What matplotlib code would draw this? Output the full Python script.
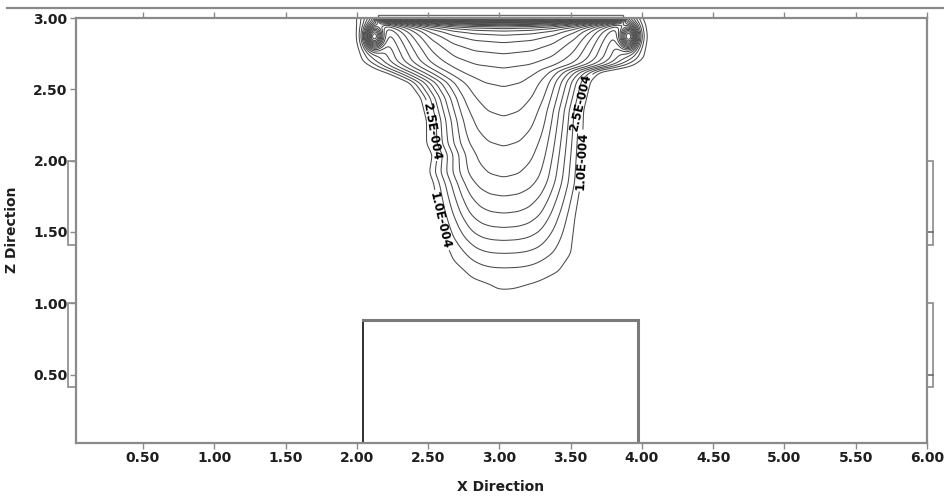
import numpy as np
import matplotlib
matplotlib.use("Agg")
import matplotlib.pyplot as plt
from matplotlib.patches import Rectangle
from matplotlib.lines import Line2D

plt.rcParams['font.family'] = ['DejaVu Sans']
plt.rcParams['font.weight'] = 'bold'

# ---------------------------------------------------------------- data
# Edges of the 1.0E-004 plume outline, as x against depth below the top (z = 3.0)
left_edge_depth = [0.00, 0.16, 0.30, 0.35, 0.38, 0.45, 0.56, 0.72, 0.88, 0.96,
                   1.08, 1.16, 1.35, 1.54, 1.70, 1.83, 1.89]
left_edge_x = [2.00, 2.01, 2.04, 2.12, 2.21, 2.37, 2.45, 2.49, 2.49, 2.53,
               2.51, 2.54, 2.57, 2.61, 2.68, 2.82, 3.02]
right_edge_depth = [0.00, 0.04, 0.13, 0.28, 0.33, 0.37, 0.44, 0.65, 0.93, 1.16,
                    1.40, 1.65, 1.78, 1.86, 1.89]
right_edge_x = [4.00, 4.02, 4.03, 4.01, 3.94, 3.71, 3.64, 3.59, 3.58, 3.57,
                3.53, 3.50, 3.41, 3.24, 3.04]
plume_axis_x = 3.03

# Concentration down the plume axis
centre_depth = [0.00, 0.04, 0.07, 0.11, 0.17, 0.25, 0.35, 0.48, 0.69, 0.90,
                1.12, 1.25, 1.37, 1.47, 1.56, 1.65, 1.75, 1.89, 2.40]
centre_conc = [2.65e-3, 2.5e-3, 2.35e-3, 2.2e-3, 2.05e-3, 1.9e-3, 1.75e-3,
               1.6e-3, 1.45e-3, 1.3e-3, 1.15e-3, 1.0e-3, 8.5e-4, 7.0e-4,
               5.5e-4, 4.0e-4, 2.5e-4, 1.0e-4, 0.0]

# Share of the axis excess left at a given fraction of the half-width
lateral_pos = [0.00, 0.20, 0.35, 0.50, 0.62, 0.74, 0.87, 1.00]
lateral_share = [1.00, 0.98, 0.93, 0.82, 0.66, 0.47, 0.24, 0.00]

level_start = 1.0e-4
level_step = 1.5e-4
level_count = 60
labelled_count = 2            # 1.0E-004 and 2.5E-004 carry labels
label_positions = [(2.585, 1.58), (3.581, 2.00),    # 1.0E-004
                   (2.56, 2.21), (3.52, 2.42)]      # 2.5E-004

# near-surface layer under the source strip, and its two corner hot spots
source_x = [2.15, 3.87]
source_height = 0.022
surface_conc = 2.5e-3
surface_decay = 0.025
hotspot_x = [2.12, 3.91]
hotspot_z = [2.87, 2.87]
hotspot_conc = 2.2e-3
hotspot_width_x = 0.04
hotspot_width_z = 0.055
smoothing = 0.018            # blur radius of the gridded field

# tank block and observation wells
tank_x = [2.04, 3.97]
tank_top = 0.885
well_z = [(1.41, 2.00), (0.41, 1.00)]
well_mark_z = [1.50, 0.50]

x_ticks = [0.5, 1.0, 1.5, 2.0, 2.5, 3.0, 3.5, 4.0, 4.5, 5.0, 5.5, 6.0]
z_ticks = [0.5, 1.0, 1.5, 2.0, 2.5, 3.0]
x_range = (0.03, 6.0)
z_range = (0.02, 3.0)

# ---------------------------------------------------------------- field
step = 0.004
xg = np.arange(x_range[0], x_range[1] + 1e-9, step)
zg = np.arange(z_range[0], z_range[1] + 1e-9, step)
X, Z = np.meshgrid(xg, zg)
D = z_range[1] - Z

xl = np.interp(D, left_edge_depth, left_edge_x)
xr = np.interp(D, right_edge_depth, right_edge_x)
half_l = np.maximum(plume_axis_x - xl, 0.005)
half_r = np.maximum(xr - plume_axis_x, 0.005)
xi = np.where(X < plume_axis_x, (plume_axis_x - X) / half_l,
              (X - plume_axis_x) / half_r)
axis_conc = np.interp(D, centre_depth, centre_conc)
# beyond the outline the share keeps falling at the edge slope
edge_slope = (lateral_share[-2] - lateral_share[-1]) / (lateral_pos[-1] - lateral_pos[-2])
lateral = np.where(xi <= 1.0, np.interp(xi, lateral_pos, lateral_share),
                   -edge_slope * (xi - 1.0))
plume = np.where(axis_conc > level_start,
                 np.maximum(level_start + (axis_conc - level_start) * lateral, 0.0),
                 axis_conc)

strip = 0.5 * (np.tanh((X - source_x[0]) / 0.02) - np.tanh((X - source_x[1]) / 0.02))
surface = surface_conc * strip * np.exp(-D / surface_decay)

hot = np.zeros_like(X)
for hx, hz in zip(hotspot_x, hotspot_z):
    hot += hotspot_conc * np.exp(-0.5 * (((X - hx) / hotspot_width_x) ** 2
                                         + ((Z - hz) / hotspot_width_z) ** 2))

conc = plume + surface + hot


def blur(field, sigma):
    """Separable Gaussian smoothing of a gridded field."""
    s = sigma / step
    r = int(3 * s)
    k = np.exp(-0.5 * (np.arange(-r, r + 1) / s) ** 2)
    k /= k.sum()
    out = field
    for axis in (0, 1):
        pad = [(0, 0), (0, 0)]
        pad[axis] = (r, r)
        p = np.pad(out, pad, mode='edge')
        n = out.shape[axis]
        acc = np.zeros_like(out)
        for i, w in enumerate(k):
            acc += w * (p[i:i + n, :] if axis == 0 else p[:, i:i + n])
        out = acc
    return out


conc = blur(conc, smoothing)
levels = level_start + level_step * np.arange(level_count)

# ---------------------------------------------------------------- figure
W, H = 945, 496
fig = plt.figure(figsize=(W / 100, H / 100), dpi=100)
ax = fig.add_axes([76 / W, 1 - 443 / H, (927 - 76) / W, (443 - 18) / H])
ax.set_xlim(*x_range)
ax.set_ylim(*z_range)

line_grey = '#8a8a8a'
for side in ax.spines.values():
    side.set_color(line_grey)
    side.set_linewidth(1.6)

cs = ax.contour(X, Z, conc, levels=levels, colors='#4a4a4a', linewidths=0.75)


def sci_label(v):
    mant, expo = f"{v:.1E}".split("E")
    return f"{mant}E{int(expo):+04d}".replace("+", "")


cs.clabel(levels=cs.levels[:labelled_count], manual=label_positions,
          fmt=sci_label, fontsize=8.5, inline=True, inline_spacing=2,
          colors='black')

# tank block
ax.plot([tank_x[0], tank_x[0]], [z_range[0], tank_top], color='#202020', lw=1.3)
ax.plot([tank_x[0], tank_x[1], tank_x[1]], [tank_top, tank_top, z_range[0]],
        color='#7a7a7a', lw=2.2, solid_joinstyle='miter')

# source strip above the top boundary
ax.add_patch(Rectangle((source_x[0], z_range[1]), source_x[1] - source_x[0],
                       source_height, fill=False, ec='#6a6a6a', lw=1.0,
                       clip_on=False))

# observation wells on both side boundaries
for z0, z1 in well_z:
    ax.add_patch(Rectangle((x_range[0] - 0.056, z0), 0.056, z1 - z0, fill=False,
                           ec=line_grey, lw=1.2, clip_on=False))
    ax.add_patch(Rectangle((x_range[1], z0), 0.042, z1 - z0, fill=False,
                           ec=line_grey, lw=1.2, clip_on=False))
for zm in well_mark_z:
    ax.plot([x_range[1], x_range[1] + 0.042], [zm, zm], color='#6a6a6a', lw=1.2,
            clip_on=False)

ax.set_xticks(x_ticks)
ax.set_xticklabels([f"{v:.2f}" for v in x_ticks])
ax.set_yticks(z_ticks)
ax.set_yticklabels([f"{v:.2f}" for v in z_ticks])
ax.tick_params(axis='both', direction='out', length=4, width=1, color=line_grey,
               labelsize=10, labelcolor='#1e1e1e')
ax.tick_params(axis='x', top=True, pad=1.5)
ax.tick_params(axis='y', pad=2)

fig.text(501 / W, 1 - 487 / H, 'X Direction', ha='center', va='center',
         fontsize=10, color='#1e1e1e')
fig.text(12 / W, 1 - 230 / H, 'Z Direction', ha='center', va='center',
         rotation=90, fontsize=10, color='#1e1e1e')

fig.add_artist(Line2D([7 / W, 943 / W], [1 - 7.5 / H, 1 - 7.5 / H],
                      color=line_grey, lw=1.6))

fig.savefig('out.png', dpi=100)
